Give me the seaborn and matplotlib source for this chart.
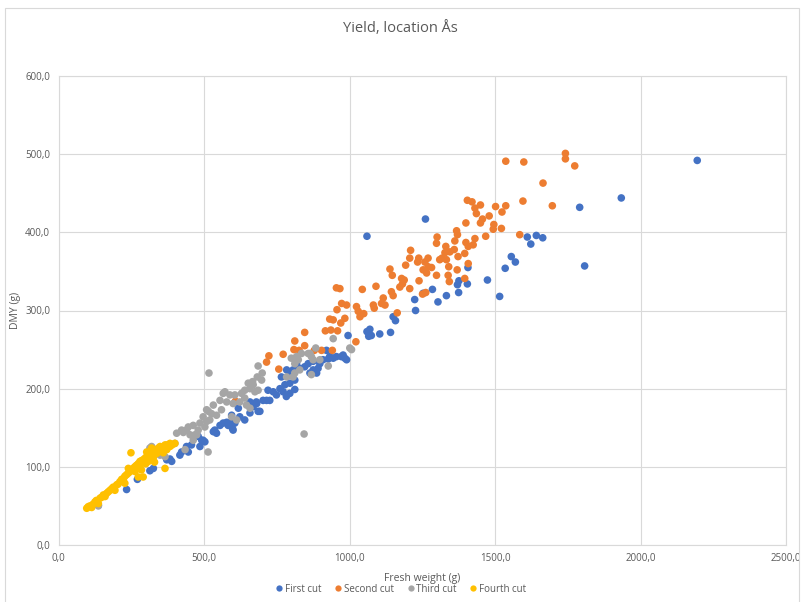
import numpy as np
import pandas as pd
import matplotlib
matplotlib.use("Agg")
import matplotlib.pyplot as plt
from matplotlib.ticker import FuncFormatter
from matplotlib.lines import Line2D
from matplotlib.patches import Rectangle
import seaborn as sns

# ---------------- data ----------------
first_x = [2195, 1934, 1791, 1808, 1261, 1060, 1611, 1623, 1642, 1664, 1556, 1570, 1535, 1516,
           1474, 1407, 1405, 1376, 1371, 1375, 1333, 1304, 1285, 1253, 1224, 1227, 1150, 1158,
           1141, 1104, 1070, 1060, 1075, 1066, 995,
           932, 944, 927, 955, 972, 984, 990, 909, 898, 875, 858, 846, 829, 818, 806, 784, 875,
           887, 864, 795, 766, 921, 978, 892,
           812, 795, 778, 761, 772, 795, 812, 749, 783, 720, 738, 703, 726, 680, 692, 658, 618,
           595, 566, 583, 555, 600, 537, 480, 497, 486, 440, 446, 417,
           234, 271, 314, 326, 372, 383, 389, 423, 492, 503, 578, 595, 606, 623, 640, 658, 686,
           669, 681, 715, 532, 543, 598, 457, 137]
first_y = [492, 444, 432, 357, 417, 395, 394, 385, 396, 393, 369, 362, 354, 318,
           339, 355, 334, 338, 333, 323, 319, 311, 327, 322, 314, 300, 292, 287,
           272, 270, 276, 273, 268, 267, 268,
           241, 239, 238, 241, 241, 239, 237, 237, 232, 235, 232, 228, 226, 232, 224, 224, 224,
           220, 220, 218, 215, 249, 243, 226,
           211, 207, 205, 200, 196, 194, 199, 192, 190, 198, 196, 185, 185, 183, 171, 183, 175,
           166, 156, 153, 153, 147, 147, 139, 134, 126, 126, 119, 115,
           71, 84, 95, 98, 109, 110, 107, 119, 134, 132, 157, 158, 156, 164, 160, 169, 171,
           177, 181, 185, 145, 143, 149, 128, 51]

second_x = [1742, 1742, 1774, 1537, 1599, 1665, 1596, 1697, 1537, 1524, 1522, 1585,
            1405, 1421, 1431, 1436, 1450, 1502, 1480, 1457, 1450, 1400, 1496, 1494, 1468, 1368,
            1371, 1362, 1301, 1299, 1331, 1328, 1400, 1408, 1431, 1425, 1360, 1396, 1373, 1345,
            1310, 1333, 1341, 1318, 1270, 1259, 1270, 1238, 1234, 1210, 1207, 1193, 1253, 1265,
            1299, 1282, 1339, 1343, 1408, 1396, 1370, 1139, 1147, 1179, 1188, 1173, 1207, 1182,
            1239, 1262, 1251, 1144, 1150, 1116, 1110, 1082, 1085, 1091, 1044, 1024, 1030, 1049,
            990, 984, 1036, 1122, 1164, 1022, 967, 973,
            955, 957, 932, 944, 970, 917, 936, 959, 846, 812, 846, 809, 772, 879, 904,
            723, 715, 757, 827, 941, 608]
second_y = [501, 494, 485, 491, 490, 463, 440, 434, 434, 426, 405, 397,
            441, 439, 431, 424, 435, 433, 421, 417, 412, 412, 410, 404, 395, 402,
            397, 389, 394, 386, 382, 374, 387, 382, 392, 384, 378, 373, 369, 375,
            365, 365, 356, 367, 367, 362, 356, 367, 362, 377, 367, 358, 352, 348,
            345, 355, 345, 337, 360, 341, 352, 353, 345, 341, 339, 330, 328, 334,
            338, 323, 321, 324, 319, 316, 309, 307, 303, 331, 327, 305, 299, 296,
            307, 290, 292, 307, 297, 260, 328, 309,
            329, 301, 289, 288, 284, 274, 275, 274, 272, 261, 255, 250, 244, 249, 249,
            242, 234, 225, 249, 249, 184]

third_x = [517, 844, 944, 1001, 1007, 800, 818, 824, 812, 864, 869, 875, 898, 927, 829, 812,
           784, 806, 884, 858, 835, 686, 869, 700, 683, 698, 667, 652, 658, 640, 675, 572, 589,
           606, 629, 555, 578, 600, 532, 646, 658, 509, 526, 543, 497, 520, 486, 463, 503, 440,
           423, 452, 463, 480, 514,
           314, 331, 349, 406, 446, 475, 435, 515, 509, 566, 560, 595, 612, 669, 686, 623, 640,
           137, 349, 366, 320, 429, 469, 400]
third_y = [220, 142, 264, 252, 250, 239, 241, 237, 232, 245, 241, 237, 237, 229, 224, 220,
           215, 215, 252, 245, 245, 229, 218, 220, 215, 211, 209, 207, 200, 198, 196, 196, 192,
           192, 194, 185, 183, 181, 179, 179, 175, 173, 168, 166, 164, 160, 156, 153, 151, 147,
           147, 141, 134, 147, 119,
           124, 119, 122, 143, 151, 141, 122, 171, 158, 194, 173, 164, 160, 205, 198, 183, 188,
           50, 115, 113, 126, 144, 141, 130]

fourth_x = [97, 108, 125, 143, 154, 171, 183, 200, 211, 223, 234, 246, 257, 268, 280, 291, 303,
            314, 326, 337, 349, 366, 383, 400, 249, 366, 291, 194, 160, 263, 240, 309, 326, 337,
            303, 320, 349, 372, 383, 274, 228, 137, 114,
            102, 118, 130, 148, 165, 177, 188, 205, 217, 228, 240, 252, 262, 274, 286, 297, 309,
            320, 332, 343, 355, 372, 390, 280, 300, 318, 340, 360, 330, 285]
fourth_y = [47, 50, 55, 60, 64, 68, 72, 77, 81, 85, 90, 94, 98, 102, 107, 109, 113,
            116, 119, 122, 126, 128, 130, 130, 118, 98, 87, 70, 62, 94, 98, 107, 112, 117,
            119, 124, 122, 122, 126, 87, 79, 53, 48,
            49, 52, 57, 61, 66, 70, 74, 78, 84, 88, 92, 96, 100, 104, 108, 111, 114,
            118, 121, 124, 125, 128, 128, 100, 104, 110, 118, 118, 106, 96]

series_names = ["First cut", "Second cut", "Third cut", "Fourth cut"]
series_colors = ["#4472C4", "#ED7D31", "#A5A5A5", "#FFC000"]
x_ticks = [0, 500, 1000, 1500, 2000, 2500]
y_ticks = [0, 100, 200, 300, 400, 500, 600]

frames = []
for name, xs, ys in zip(series_names,
                        [first_x, second_x, third_x, fourth_x],
                        [first_y, second_y, third_y, fourth_y]):
    frames.append(pd.DataFrame({"Fresh weight": xs, "DMY": ys, "Cut": name}))
df = pd.concat(frames, ignore_index=True)

# ---------------- plotting ----------------
sns.set_theme(style="white")
plt.rcParams['font.family'] = ['Open Sans', 'DejaVu Sans']

fig = plt.figure(figsize=(8.01, 6.02), dpi=100)
ax = fig.add_axes([58.5 / 801, 1 - 545 / 602, (786 - 58.5) / 801, (545 - 76) / 602])

sns.scatterplot(data=df, x="Fresh weight", y="DMY", hue="Cut",
                hue_order=series_names, palette=dict(zip(series_names, series_colors)),
                s=30, linewidth=0, alpha=1, legend=False, ax=ax, zorder=3)

ax.set_xlim(x_ticks[0], x_ticks[-1])
ax.set_ylim(y_ticks[0], y_ticks[-1])
ax.set_xticks(x_ticks)
ax.set_yticks(y_ticks)
fmt = FuncFormatter(lambda v, p: f"{v:.1f}".replace(".", ","))
ax.xaxis.set_major_formatter(fmt)
ax.yaxis.set_major_formatter(fmt)
ax.tick_params(axis="both", labelsize=7, colors="#595959", length=0, pad=6)
ax.grid(True, color="#D9D9D9", linewidth=0.8)
ax.set_axisbelow(True)
for sp in ax.spines.values():
    sp.set_color("#D9D9D9")
    sp.set_linewidth(0.8)

ax.set_xlabel("Fresh weight (g)", fontsize=7.5, color="#595959", labelpad=6)
ax.set_ylabel("DMY (g)", fontsize=7.5, color="#595959", labelpad=3)

fig.text(0.5, 1 - 28 / 602, "Yield, location Ås", ha="center", va="center",
         fontsize=10.5, color="#595959")

handles = [Line2D([0], [0], marker="o", linestyle="", markersize=4.5,
                  markerfacecolor=c, markeredgewidth=0) for c in series_colors]
fig.legend(handles, series_names, loc="center", bbox_to_anchor=(0.5, 1 - 589 / 602),
           ncol=4, frameon=False, fontsize=7, labelcolor="#595959",
           handletextpad=0.1, columnspacing=1.2, handlelength=1.0)

fig.patches.append(Rectangle((5 / 801, -0.01), 794 / 801, 1.01 - 8 / 602,
                             transform=fig.transFigure, fill=False,
                             edgecolor="#D9D9D9", linewidth=0.8))

fig.savefig("out.png", dpi=100)
